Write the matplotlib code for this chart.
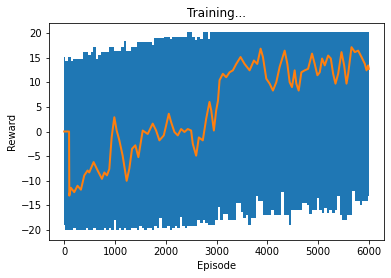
import matplotlib
matplotlib.use("Agg")
import matplotlib.pyplot as plt

# Raw episode reward band (envelope, every 50 episodes)
env_episodes = list(range(0, 6001, 50))
reward_upper = [
    15.1, 14.2, 15.1, 14.2, 14.7, 14.7, 14.7, 14.7, 16.1, 16.1,   # 0-450
    15.6, 16.1, 17.1, 14.7, 15.5, 16.1, 16.1, 16.1, 17.1, 17.1,   # 500-950
    16.4, 16.4, 16.4, 17.1, 18.3, 16.4, 16.4, 17.1, 17.1, 18.1,   # 1000-1450
    18.1, 18.1, 18.1, 18.1, 18.1, 17.5, 18.9, 18.9, 18.9, 18.9,   # 1500-1950
    19.1, 19.1, 18.8, 19.1, 19.1, 19.1, 19.1, 19.1, 19.1, 20.2,   # 2000-2450
    20.2, 19.1, 18.5, 19.1, 18.8, 20.2, 20.2, 18.8, 20.2, 20.2,   # 2500-2950
    20.2, 20.2, 20.2, 20.2, 20.2, 20.2, 20.2, 20.2, 20.2, 20.2,   # 3000-3450
    20.2, 20.2, 20.2, 20.2, 20.2, 20.2, 20.2, 20.2, 20.2, 20.2,   # 3500-3950
    20.2, 20.2, 20.2, 20.2, 20.2, 20.2, 20.2, 20.2, 20.2, 20.2,   # 4000-4450
    20.2, 20.2, 20.2, 20.2, 20.2, 20.2, 20.2, 20.2, 20.2, 20.2,   # 4500-4950
    20.2, 20.2, 20.2, 20.2, 20.2, 20.2, 20.2, 20.2, 20.2, 20.2,   # 5000-5450
    20.2, 20.2, 20.2, 20.2, 20.2, 20.2, 20.2, 20.2, 20.2, 20.2,   # 5500-5950
    20.2]                                                         # 6000
reward_lower = [
    -19.0, -20.0, -20.0, -20.0, -19.6, -20.0, -20.0, -20.0, -20.0, -19.5,   # 0-450
    -20.0, -20.0, -19.5, -20.0, -20.0, -20.0, -19.5, -20.0, -19.5, -20.0,   # 500-950
    -18.0, -20.0, -19.5, -20.0, -19.5, -20.0, -20.0, -19.5, -19.5, -20.0,   # 1000-1450
    -19.2, -19.5, -20.0, -19.5, -19.5, -20.0, -19.2, -19.5, -17.5, -19.5,   # 1500-1950
    -19.5, -19.2, -20.0, -19.5, -19.2, -19.5, -17.3, -19.2, -19.5, -19.1,   # 2000-2450
    -19.1, -19.1, -19.1, -18.0, -18.5, -18.0, -18.5, -19.0, -19.0, -19.0,   # 2500-2950
    -18.0, -15.4, -18.0, -16.7, -16.7, -18.0, -18.0, -18.0, -14.4, -14.4,   # 3000-3450
    -16.4, -17.5, -17.0, -19.0, -17.5, -17.5, -13.0, -14.0, -14.0, -17.0,   # 3500-3950
    -17.0, -17.0, -16.0, -17.0, -17.0, -17.0, -12.3, -17.0, -17.0, -19.0,   # 4000-4450
    -16.0, -16.0, -16.0, -16.0, -14.5, -14.5, -15.0, -16.8, -16.0, -16.0,   # 4500-4950
    -13.5, -16.0, -16.5, -15.5, -16.5, -16.0, -16.5, -16.0, -13.0, -17.0,   # 5000-5450
    -18.0, -18.0, -17.0, -17.0, -12.0, -14.0, -14.0, -15.0, -14.0, -14.0,   # 5500-5950
    -13.0]                                                                  # 6000

# 100-episode moving average
avg_episodes = [0, 95, 100, 130, 197, 262, 329, 395, 460, 493, 579, 658, 743, 790,
                842, 888, 934, 987, 1033, 1086, 1151, 1230, 1283, 1336, 1401, 1461,
                1546, 1645, 1743, 1810, 1875, 1961, 2007, 2060, 2106, 2171, 2237,
                2303, 2369, 2434, 2500, 2533, 2599, 2652, 2730, 2797, 2862, 2896,
                2948, 2994, 3030, 3060, 3125, 3191, 3257, 3323, 3389, 3474, 3553,
                3652, 3737, 3803, 3869, 3915, 3981, 4047, 4112, 4178, 4244, 4343,
                4396, 4441, 4487, 4540, 4573, 4619, 4672, 4738, 4804, 4882, 4935,
                4988, 5034, 5080, 5133, 5199, 5252, 5298, 5344, 5397, 5463, 5515,
                5561, 5594, 5660, 5725, 5791, 5857, 5923, 5956, 5988, 6000]
avg_reward = [0, 0, -13, -11.4, -12.3, -11, -11.8, -8.9, -7.9, -8.3, -6.2, -7.9,
              -9.6, -8.3, -8.9, -7.6, -1.2, 2.9, 0.2, -1.8, -4.9, -10, -7.5, -3.5,
              -2.8, -5.2, 0.2, -0.5, 1.6, 0.2, -1.8, -0.8, 1.2, 3.6, 1.9, -0.1,
              -0.8, 0.5, -0.1, 0.5, 0.2, -2.5, -4.9, -1.2, -1.8, 2.6, 6, 4.3, 0.2,
              4.3, 6.3, 10.4, 11.7, 11, 12, 12.4, 13.7, 15.1, 13.7, 12.4, 14.4,
              13.7, 16.8, 15.1, 10.7, 9.7, 8.3, 10, 13.1, 16.4, 13.7, 10, 9, 12.4,
              9.7, 8.3, 12, 12.4, 12.7, 15.8, 13.7, 11.4, 12, 14.8, 13.4, 15.4,
              14.8, 11.7, 9.7, 11.7, 16.1, 13.4, 9.7, 11.7, 17.1, 16.1, 16.4, 15.1,
              13.7, 12.4, 13.4, 12.7]

W, H, DPI = 391, 278, 72
fig = plt.figure(figsize=(W / DPI, H / DPI), dpi=DPI)
ax = fig.add_axes([49 / W, 1 - 240 / H, (384 - 49) / W, (240 - 23) / H])

ax.fill_between(env_episodes, reward_lower, reward_upper, step='mid',
                color='#1f77b4', linewidth=0)
ax.plot(avg_episodes, avg_reward, color='#ff7f0e', linewidth=2.0)

ax.set_xlim(-300, 6300)
ax.set_ylim(-22, 22)
ax.set_xticks([0, 1000, 2000, 3000, 4000, 5000, 6000])
ax.set_yticks([-20, -15, -10, -5, 0, 5, 10, 15, 20])
ax.set_title("Training...", fontsize=12)
ax.set_xlabel("Episode", fontsize=10)
ax.set_ylabel("Reward", fontsize=10)
ax.tick_params(labelsize=10)

fig.savefig("out.png", dpi=DPI)
